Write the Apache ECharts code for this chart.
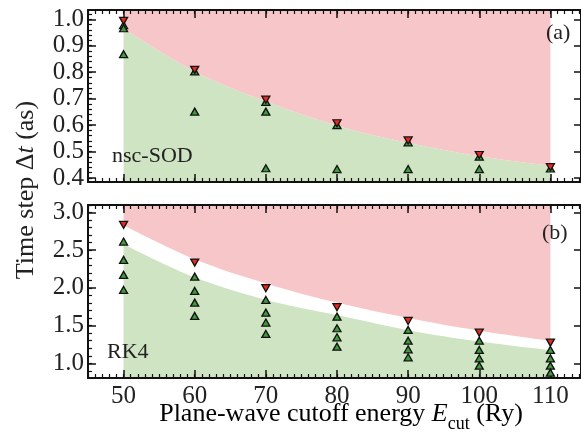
<!DOCTYPE html>
<html>
<head>
<meta charset="utf-8">
<script src="https://cdn.jsdelivr.net/npm/echarts@6/dist/echarts.min.js"></script>
<style>html,body{margin:0;padding:0;background:#fff}#c{width:581px;height:434px}</style>
</head>
<body>
<div id="c"></div>
<script>
// ---- data ----
const cutoffs = [50, 60, 70, 80, 90, 100, 110];
const xTickLabels = [50, 60, 70, 80, 90, 100, 110];
const yTicksA = [0.4, 0.5, 0.6, 0.7, 0.8, 0.9, 1.0];
const yTicksB = [1.0, 1.5, 2.0, 2.5, 3.0];

// panel (a) nsc-SOD
const sodBoundary = [0.965, 0.803, 0.690, 0.598, 0.533, 0.482, 0.446];
const sodUnstable = [0.994, 0.809, 0.696, 0.607, 0.542, 0.487, 0.441];
const sodStableX = [50, 50, 50, 60, 60, 70, 70, 70, 80, 80, 90, 90, 100, 100, 110];
const sodStableY = [0.978, 0.966, 0.868, 0.803, 0.651, 0.688, 0.651, 0.437, 0.600, 0.434, 0.535, 0.434, 0.481, 0.434, 0.436];

// panel (b) RK4
const rkUpper = [2.83, 2.38, 2.06, 1.805, 1.60, 1.433, 1.30];
const rkLower = [2.58, 2.14, 1.84, 1.64, 1.44, 1.29, 1.175];
const rkUnstable = [2.837, 2.336, 1.996, 1.744, 1.562, 1.406, 1.274];
const rkStableX = [50,50,50,50, 60,60,60,60, 70,70,70,70, 80,80,80,80, 90,90,90,90, 100,100,100,100, 110,110,110,110];
const rkStableY = [2.615,2.372,2.173,1.973, 2.15,1.96,1.805,1.628, 1.84,1.672,1.54,1.389, 1.619,1.465,1.345,1.22, 1.442,1.30,1.186,1.08, 1.30,1.177,1.066,0.968, 1.177,1.066,0.968,0.875];

// ---- helpers ----
function steps(a, b, s) { const r = []; const n = Math.round((b - a) / s); for (let i = 0; i <= n; i++) r.push(+(a + i * s).toFixed(4)); return r; }
function pairs(xs, ys) { return xs.map((x, i) => [x, ys[i]]); }

const SERIF = '"Liberation Serif", "DejaVu Serif", serif';
const PINK = '#f7c6c8', GREEN = '#cfe4c2';
const GREEN_M = '#3f9a3c', RED_M = '#e52a20';

const XMIN = 45, XMAX = 114.3;
const yRanges = [[0.385, 1.035], [0.805, 3.1]];
const yMinor = [steps(0.38, 1.04, 0.02), steps(0.8, 3.1, 0.1)];
const yMajor = [yTicksA, yTicksB];

const grids = [
  { left: 88, top: 10, width: 495, height: 172 },
  { left: 88, top: 205, width: 495, height: 173 }
];

const xAxis = [], yAxis = [];
const line = { show: true, onZero: false, lineStyle: { color: '#111', width: 2 } };
for (let g = 0; g < 2; g++) {
  ['bottom', 'top'].forEach(pos => {
    xAxis.push({
      type: 'value', gridIndex: g, position: pos, min: XMIN, max: XMAX, z: 10,
      axisLine: line, splitLine: { show: false },
      axisTick: { show: true, inside: true, length: 8, customValues: xTickLabels, lineStyle: { color: '#111', width: 1.5 } },
      axisLabel: (g === 1 && pos === 'bottom') ?
        { show: true, customValues: xTickLabels, fontFamily: SERIF, fontSize: 25, color: '#222', margin: 6 } :
        { show: false }
    });
    xAxis.push({
      type: 'value', gridIndex: g, position: pos, min: XMIN, max: XMAX, z: 10,
      axisLine: { show: false, onZero: false }, splitLine: { show: false },
      axisTick: { show: true, inside: true, length: 4, customValues: steps(45, 114, 1), lineStyle: { color: '#111', width: 1.2 } },
      axisLabel: { show: false }
    });
  });
  yAxis.push({
    type: 'value', gridIndex: g, position: 'left', min: yRanges[g][0], max: yRanges[g][1], z: 10,
    axisLine: line, splitLine: { show: false },
    axisTick: { show: true, inside: true, length: 8, customValues: yMajor[g], lineStyle: { color: '#111', width: 1.5 } },
    axisLabel: { show: true, customValues: yMajor[g], formatter: v => v.toFixed(1), fontFamily: SERIF, fontSize: 25, color: '#222', margin: 4 }
  });
  yAxis.push({
    type: 'value', gridIndex: g, position: 'left', min: yRanges[g][0], max: yRanges[g][1], z: 10,
    axisLine: { show: false, onZero: false }, splitLine: { show: false },
    axisTick: { show: true, inside: true, length: 4, customValues: yMinor[g], lineStyle: { color: '#111', width: 1.2 } },
    axisLabel: { show: false }
  });
  yAxis.push({
    type: 'value', gridIndex: g, position: 'right', min: yRanges[g][0], max: yRanges[g][1], z: 10,
    axisLine: line, splitLine: { show: false },
    axisTick: { show: true, inside: true, length: 7, customValues: yMajor[g], lineStyle: { color: '#111', width: 1.5 } },
    axisLabel: { show: false }
  });
}

function area(g, vals, color, origin) {
  return {
    type: 'line', xAxisIndex: 4 * g, yAxisIndex: 3 * g, data: pairs(cutoffs, vals),
    smooth: 0.35, showSymbol: false, silent: true, z: 1,
    lineStyle: { width: 0 }, areaStyle: { color: color, opacity: 1, origin: origin }
  };
}
function tri(g, data, color, down) {
  return {
    type: 'scatter', xAxisIndex: 4 * g, yAxisIndex: 3 * g, data: data, z: 20,
    symbol: 'triangle', symbolSize: [8, 7], symbolRotate: down ? 180 : 0,
    itemStyle: { color: color, borderColor: '#111', borderWidth: 1.3, opacity: 1 }
  };
}

const series = [
  area(0, sodBoundary, GREEN, 'start'),
  area(0, sodBoundary, PINK, 'end'),
  area(1, rkLower, GREEN, 'start'),
  area(1, rkUpper, PINK, 'end'),
  tri(0, pairs(sodStableX, sodStableY), GREEN_M, false),
  tri(0, pairs(cutoffs, sodUnstable), RED_M, true),
  tri(1, pairs(rkStableX, rkStableY), GREEN_M, false),
  tri(1, pairs(cutoffs, rkUnstable), RED_M, true)
];

const txt = (x, y, text, size, align) => ({
  type: 'text', x: x, y: y, z: 100,
  style: { text: text, font: size + 'px ' + SERIF, fill: '#222', align: align || 'left', verticalAlign: 'middle' }
});

const graphic = [
  txt(112, 156, 'nsc-SOD', 22),
  txt(107, 352, 'RK4', 22),
  txt(546, 33, '(a)', 22),
  txt(542, 233, '(b)', 22),
  {
    type: 'text', x: 26, y: 190, rotation: Math.PI / 2, z: 100,
    style: {
      text: '{n|Time step Δ}{i|t}{n| (as)}', align: 'center', verticalAlign: 'middle',
      rich: {
        n: { fontFamily: SERIF, fontSize: 26, fill: '#222', color: '#222' },
        i: { fontFamily: SERIF, fontSize: 26, fontStyle: 'italic', fill: '#222', color: '#222' }
      }
    }
  },
  {
    type: 'text', x: 341, y: 416, z: 100,
    style: {
      text: '{n|Plane-wave cutoff energy }{i|E}{s|cut}{n| (Ry)}', align: 'center', verticalAlign: 'middle',
      rich: {
        n: { fontFamily: SERIF, fontSize: 26, lineHeight: 30, verticalAlign: 'top', color: '#222' },
        i: { fontFamily: SERIF, fontSize: 26, fontStyle: 'italic', lineHeight: 30, verticalAlign: 'top', color: '#222' },
        s: { fontFamily: SERIF, fontSize: 18, lineHeight: 20, padding: [14, 0, 0, 0], verticalAlign: 'top', color: '#222' }
      }
    }
  }
];

const chart = echarts.init(document.getElementById('c'), null, { renderer: 'canvas' });
chart.setOption({
  animation: false,
  backgroundColor: '#fff',
  grid: grids,
  xAxis: xAxis,
  yAxis: yAxis,
  series: series,
  graphic: graphic
});
</script>
</body>
</html>
